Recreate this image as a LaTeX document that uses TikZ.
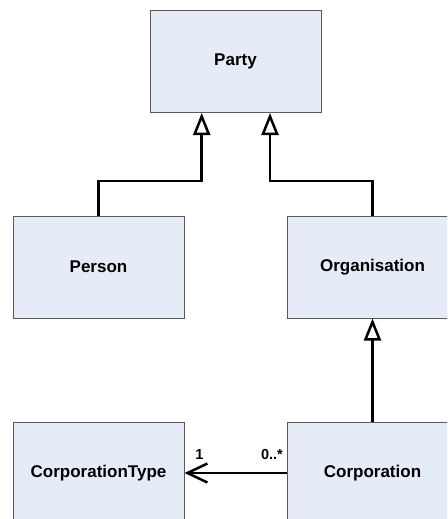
\documentclass[tikz,border=0pt]{standalone}
\usepackage{fontspec}
\setmainfont{Liberation Sans}
\usetikzlibrary{arrows.meta}
\definecolor{boxfill}{RGB}{230,236,247}
\definecolor{boxline}{RGB}{90,90,90}
\begin{document}
\begin{tikzpicture}[x=1pt,y=-1pt,
  classbox/.style={draw=boxline,fill=boxfill,line width=1pt,minimum width=171pt,minimum height=102pt,
    inner sep=0pt,font=\fontsize{17}{19}\selectfont\bfseries},
  gen/.style={line width=2.5pt,-{Triangle[open,length=22pt,width=17pt]}},
  assoc/.style={line width=2.5pt,-{Straight Barb[length=20pt,width=19pt]}},
  mult/.style={font=\fontsize{14.5}{16}\selectfont\bfseries,inner sep=0pt}]
\useasboundingbox (0,0) rectangle (447,519);
\clip (0,0) rectangle (447,519);
\fill[white] (0,0) rectangle (447,519);

% classes
\node[classbox] (party) at (235.5,61.5) {Party};
\node[classbox] (person) at (98.5,267) {Person};
\node[classbox] (org) at (372.5,267) {Organisation};
\node[classbox] (ctype) at (98.5,473) {CorporationType};
\node[classbox] (corp) at (372.5,473) {Corporation};

% bend points of the generalisation lines
\coordinate (pl) at (201.7,181);
\coordinate (pr) at (270,181);

% generalisations
\draw[gen] (person.north) |- (pl) -- (pl |- party.south);
\draw[gen] (org.north) |- (pr) -- (pr |- party.south);
\draw[gen] (corp.north) -- (org.south);

% association with multiplicities
\draw[assoc] (corp.west) -- (ctype.east);
\node[mult] (m1) at (199.5,455) {1};
\node[mult] (m2) at (272,455) {0..*};
\end{tikzpicture}
\end{document}
